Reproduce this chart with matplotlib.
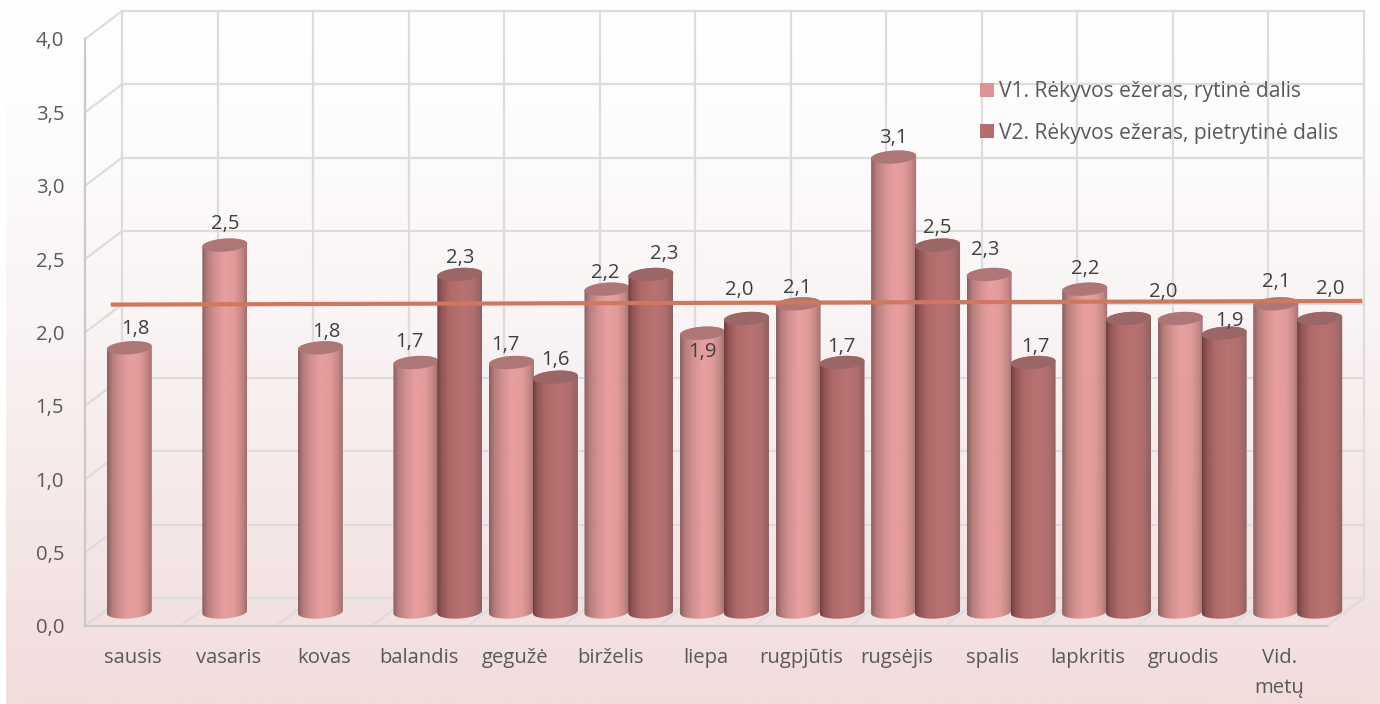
import numpy as np
import matplotlib
matplotlib.use("Agg")
import matplotlib.pyplot as plt
from matplotlib.colors import LinearSegmentedColormap
from matplotlib.patches import Patch
from matplotlib.path import Path

# --------------------------------------------
# Data
# --------------------------------------------
months = ["sausis", "vasaris", "kovas", "balandis", "gegužė", "birželis", "liepa",
          "rugpjūtis", "rugsėjis", "spalis", "lapkritis", "gruodis", "Vid.\nmetų"]
v1 = [1.8, 2.5, 1.8, 1.7, 1.7, 2.2, 1.9, 2.1, 3.1, 2.3, 2.2, 2.0, 2.1]
v2 = [None, None, None, 2.3, 1.6, 2.3, 2.0, 1.7, 2.5, 1.7, 2.0, 1.9, 2.0]
y_ticks = [0.0, 0.5, 1.0, 1.5, 2.0, 2.5, 3.0, 3.5, 4.0]
trend_x = [0.27, 13.37]
trend_y = [2.19, 2.215]
v1_name = "V1. Rėkyvos ežeras, rytinė dalis"
v2_name = "V2. Rėkyvos ežeras, pietrytinė dalis"

# label positions in picture pixels, they were moved by hand in the original
v1_label_px = [(135, 329), (225, 224), (326, 332), (409, 342), (505, 345), (605, 273), (702, 352),
               (797, 288), (893, 138), (985, 250), (1085, 269), (1163, 292), (1276, 282)]
v2_label_px = [None, None, None, (460, 258), (555, 360), (664, 254), (739, 290),
               (841, 347), (937, 228), (1035, 347), None, (1229, 321), (1330, 289)]

# --------------------------------------------
# Style
# --------------------------------------------
W, H = 1380, 704
plt.rcParams["font.family"] = ["Open Sans", "DejaVu Sans"]
TEXT = "#595959"
LABEL = "#404040"
GRID = "#dcdcdc"
AXIS = "#c9c9c9"
FONT = 14.6

cmap_v1 = LinearSegmentedColormap.from_list("v1", [(0, "#875b5b"), (0.12, "#b57a7a"), (0.3, "#d58e8e"),
                                                   (0.5, "#e89c9c"), (0.72, "#e29898"), (0.88, "#c78585"), (1, "#9e6b6b")])
cmap_v2 = LinearSegmentedColormap.from_list("v2", [(0, "#6c3a3a"), (0.1, "#8f5050"), (0.28, "#ad6565"),
                                                   (0.55, "#b76e6e"), (0.82, "#b06a6a"), (1, "#8c5c5c")])
CAP_V1 = "#ad7777"
CAP_V2 = "#9b6666"

fig = plt.figure(figsize=(W / 100, H / 100), dpi=100)

# page background, white to pale pink
bg = fig.add_axes([6 / W, 0, 1 - 6 / W, 1], zorder=0)
bg_cmap = LinearSegmentedColormap.from_list("bg", [(0, "#ffffff"), (0.15, "#fefdfd"), (0.45, "#faf4f4"),
                                                   (0.7, "#f6e9e9"), (1, "#f2dcdc")])
bg.imshow(np.linspace(0, 1, 256).reshape(-1, 1), cmap=bg_cmap, aspect="auto", vmin=0, vmax=1)
bg.axis("off")

# the axes box is the front plane of the 3D chart
ax = fig.add_axes([85 / W, 1 - 626 / H, (1327 - 85) / W, (626 - 39) / H], zorder=1)
ax.patch.set_alpha(0)
n = len(months)
x_unit = (1327 - 85) / n
y_unit = (626 - 39) / 4.0
DX = 37 / x_unit      # full depth of the box
DY = 28 / y_unit
R = 22.5 / x_unit     # cylinder radius
B = 6.5 / y_unit      # ellipse half height
TILT = 1.5 / y_unit

# --------------------------------------------
# Walls
# --------------------------------------------
for t in y_ticks:
    ax.plot([DX, n + DX], [t + DY, t + DY], color=GRID, lw=1.6, clip_on=False, zorder=1)
    ax.plot([0, DX], [t, t + DY], color=GRID, lw=1.6, clip_on=False, zorder=1)
for i in range(n + 1):
    ax.plot([i + DX, i + DX], [DY, 4 + DY], color=GRID, lw=1.6, clip_on=False, zorder=1)
    ax.plot([i, i + DX], [0, DY], color=GRID, lw=1.6, clip_on=False, zorder=1)


# --------------------------------------------
# Cylinders
# --------------------------------------------
def cylinder(cx, value, cmap, cap):
    base = DY / 2
    top = base + value
    t_low = np.linspace(np.pi, 2 * np.pi, 40)
    t_up = np.linspace(0, np.pi, 40)
    # bottom half of the base, then back along the top rim
    xs = np.r_[cx + R * np.cos(t_low), cx + R * np.cos(t_up)]
    ys = np.r_[base + B * np.sin(t_low) + TILT * np.cos(t_low),
               top + B * np.sin(t_up) + TILT * np.cos(t_up)]
    im = ax.imshow(np.linspace(0, 1, 128).reshape(1, -1), cmap=cmap, aspect="auto", vmin=0, vmax=1,
                   extent=[cx - R, cx + R, base - B - 0.02, top + B + 0.02], zorder=3, alpha=0.97)
    im.set_clip_box(fig.bbox)
    im.set_clip_path(Path(np.r_[np.c_[xs, ys], [[xs[0], ys[0]]]]), ax.transData)
    t = np.linspace(0, 2 * np.pi, 80)
    ax.fill(cx + R * np.cos(t), top + B * np.sin(t) + TILT * np.cos(t), color=cap, zorder=3, clip_on=False, lw=0)


BAR_OFFSET = 0.23
for i in range(n):
    cx = i + 0.5 + DX / 2
    cylinder(cx - BAR_OFFSET, v1[i], cmap_v1, CAP_V1)
    if v2[i] is not None:
        cylinder(cx + BAR_OFFSET, v2[i], cmap_v2, CAP_V2)

ax.set_xlim(0, n)
ax.set_ylim(0, 4)

# --------------------------------------------
# Trend line, labels, axes
# --------------------------------------------
ax.plot(trend_x, trend_y, color="#d0785e", lw=3.0, clip_on=False, zorder=5, solid_capstyle="butt")

for vals, pos in [(v1, v1_label_px), (v2, v2_label_px)]:
    for val, p in zip(vals, pos):
        if val is None or p is None:
            continue
        fig.text(p[0] / W, 1 - p[1] / H, f"{val:.1f}".replace(".", ","), color=LABEL, fontsize=FONT,
                 ha="center", va="center", zorder=6)

ax.set_xticks([i + 0.5 for i in range(n)])
ax.set_xticklabels(months, linespacing=1.65)
ax.set_yticks(y_ticks)
ax.set_yticklabels([f"{t:.1f}".replace(".", ",") for t in y_ticks], va="center_baseline")
ax.tick_params(axis="x", length=0, pad=16, labelsize=FONT, labelcolor=TEXT)
ax.tick_params(axis="y", length=0, pad=15, labelsize=FONT, labelcolor=TEXT)
for s in ["top", "right"]:
    ax.spines[s].set_visible(False)
for s in ["left", "bottom"]:
    ax.spines[s].set_color(AXIS)
    ax.spines[s].set_linewidth(1.6)

handles = [Patch(facecolor="#dc9494", label=v1_name), Patch(facecolor="#b56c6c", label=v2_name)]
fig.legend(handles=handles, loc="upper left", bbox_to_anchor=(980 / W, 1 - 81 / H), frameon=False,
           fontsize=15.1, labelcolor=TEXT, handlelength=0.67, handleheight=0.67, handletextpad=0.25,
           labelspacing=0.98, borderpad=0, borderaxespad=0)

fig.savefig("out.png", dpi=100)
plt.close()
